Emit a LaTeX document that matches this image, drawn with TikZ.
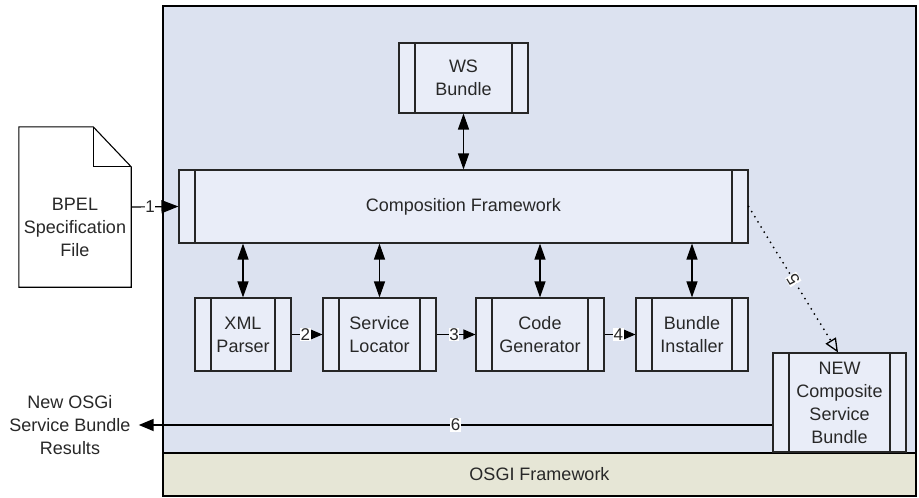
\documentclass[tikz,border=0pt]{standalone}
\usepackage{fontspec}
\setmainfont{Liberation Sans}
\usetikzlibrary{arrows.meta}
\definecolor{bgblue}{RGB}{220,226,240}
\definecolor{boxfill}{RGB}{233,237,248}
\definecolor{bandfill}{RGB}{230,230,214}
\definecolor{txt}{RGB}{40,40,40}
\tikzset{
  subbox/.style={draw=black!85, line width=1.1pt, fill=boxfill, inner sep=0pt,
    align=center, text=txt, font=\fontsize{18}{23}\selectfont,
    path picture={
      \draw[line width=1.1pt] ([xshift=16pt]path picture bounding box.north west) -- ([xshift=16pt]path picture bounding box.south west);
      \draw[line width=1.1pt] ([xshift=-16pt]path picture bounding box.north east) -- ([xshift=-16pt]path picture bounding box.south east);
    }},
  dbl/.style={line width=1.2pt, {Triangle[length=16pt,width=11pt]}-{Triangle[length=16pt,width=11pt]}},
  fwd/.style={line width=1.2pt, -{Triangle[length=12pt,width=10pt]}},
  numlbl/.style={fill=white, inner sep=0.5pt, text=txt, font=\fontsize{17}{17}\selectfont},
  plain/.style={align=center, text=txt, font=\fontsize{18}{23}\selectfont}
}
\begin{document}
\begin{tikzpicture}[x=1pt,y=-1pt]
\useasboundingbox (0,0) rectangle (919,498);
% frame
\fill[white] (0,0) rectangle (919,498);
\draw[line width=1.1pt, fill=bgblue] (163,6) rectangle (916,453);
\node[draw, line width=1.1pt, fill=bandfill, minimum width=753pt, minimum height=43pt, inner sep=0pt, text=txt, font=\fontsize{18}{22}\selectfont] (osgi) at (539.5,474.5) {OSGI Framework};
% boxes
\node[subbox, minimum width=129pt, minimum height=70pt] (ws) at (463.5,78) {WS\\Bundle};
\node[subbox, minimum width=569pt, minimum height=73pt] (cf) at (463.5,206.5) {Composition Framework};
\node[subbox, minimum width=96pt, minimum height=73pt] (xml) at (243,334.5) {XML\\Parser};
\node[subbox, minimum width=113pt, minimum height=73pt] (sl) at (379.5,334.5) {Service\\Locator};
\node[subbox, minimum width=128pt, minimum height=73pt] (cg) at (540,334.5) {Code\\Generator};
\node[subbox, minimum width=112pt, minimum height=73pt] (bi) at (692,334.5) {Bundle\\Installer};
\node[subbox, minimum width=133pt, minimum height=99pt] (new) at (839.5,402.5) {NEW\\Composite\\Service\\Bundle};
% document
\node[minimum width=112pt, minimum height=160pt, inner sep=0pt] (doc) at (75,207) {};
\draw[line width=1.1pt, fill=white] (doc.north west) -- ([xshift=-38pt]doc.north east) -- ([yshift=-40pt]doc.north east) -- (doc.south east) -- (doc.south west) -- cycle;
\draw[line width=1.1pt] ([xshift=-38pt]doc.north east) -- ([xshift=-38pt,yshift=-40pt]doc.north east) -- ([yshift=-40pt]doc.north east);
\node[plain] (doctext) at ([yshift=-20pt]doc.center) {BPEL\\Specification\\File};
% results
\node[plain, inner sep=0pt] (res) at (70,425) {New OSGi\\Service Bundle\\Results};
% connectors
\draw[line width=1.2pt, -{Triangle[length=17pt,width=13pt]}] (doc.east) -- node[numlbl, pos=0.4]{1} (cf.west);
\draw[dbl] (ws.south) -- (cf.north -| ws.south);
\draw[dbl] (cf.south -| xml.north) -- (xml.north);
\draw[dbl] (cf.south -| sl.north) -- (sl.north);
\draw[dbl] (cf.south -| cg.north) -- (cg.north);
\draw[dbl] (cf.south -| bi.north) -- (bi.north);
\draw[fwd] (xml.east) -- node[numlbl, pos=0.45]{2} (sl.west);
\draw[fwd] (sl.east) -- node[numlbl, pos=0.45]{3} (cg.west);
\draw[fwd] (cg.east) -- node[numlbl, pos=0.45]{4} (bi.west);
\draw[line width=2pt, line cap=round, dash pattern=on 0pt off 6pt, -{Triangle[open,length=14pt,width=12pt,line width=1.3pt]}] (cf.east) -- node[numlbl, sloped, rotate=180]{5} ([xshift=-1.5pt]new.north);
\draw[line width=1.8pt, -{Triangle[length=15pt,width=12pt]}] (res.east -| new.west) -- node[numlbl]{6} ([xshift=8pt]res.east);
\end{tikzpicture}
\end{document}
